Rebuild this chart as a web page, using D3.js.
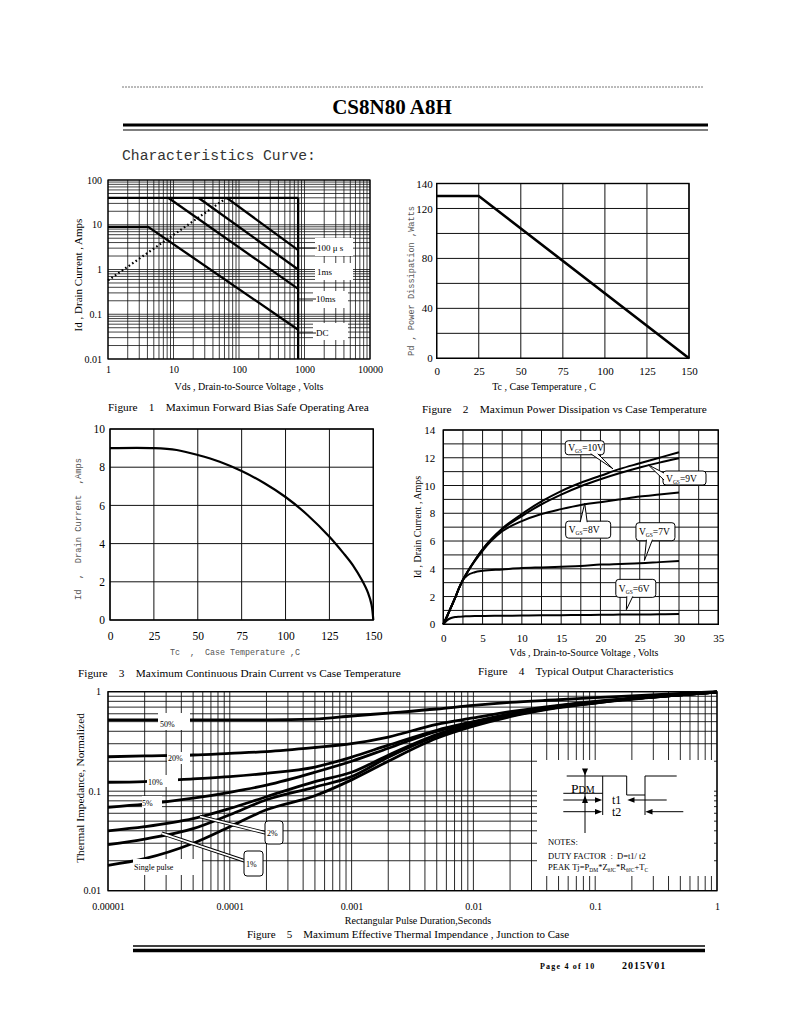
<!DOCTYPE html>
<html><head><meta charset="utf-8">
<script src="https://cdn.jsdelivr.net/npm/d3@7"></script>
<style>body{margin:0;background:#fff}svg{display:block}</style>
</head><body><svg id="c" width="800" height="1035"></svg>
<script>
// ================= DATA =================
// Figure 1 - Safe Operating Area (Vds V, Id A)
const soaXTicks = [1, 10, 100, 1000, 10000];
const soaYTicks = [100, 10, 1, 0.1, 0.01];
const soaRdsLimit = [[1, 0.57], [65, 40]];
const soaIdm = [[1, 40], [800, 40]];
const soaVdss = [[800, 40], [800, 0.01]];
const soaDC = [[1, 9], [4.1, 9], [800, 0.045]];
const soa10ms = [[8.3, 40], [800, 0.37]];
const soa1ms = [[24, 40], [800, 1.0]];
const soa100us = [[65, 40], [800, 2.7]];
const soaLabels = ["100 \u03bc s", "1ms", "10ms", "DC"];

// Figure 2 - Power dissipation
const pdTc = [0, 25, 150];
const pdW = [130, 130, 0];
const pdXTicks = [0, 25, 50, 75, 100, 125, 150];
const pdYTicks = [0, 40, 80, 120, 140];

// Figure 3 - Continuous drain current
const idTc = [0, 25, 38, 50, 62.5, 75, 88, 100, 112.5, 125, 133, 138.5, 143.5, 147, 149, 150];
const idA = [9, 9, 8.9, 8.64, 8.29, 7.8, 7.16, 6.44, 5.5, 4.36, 3.5, 2.85, 2.09, 1.42, 0.8, 0];
const idXTicks = [0, 25, 50, 75, 100, 125, 150];
const idYTicks = [0, 2, 4, 6, 8, 10];

// Figure 4 - Output characteristics
const outVds = [0, 0.5, 1, 1.5, 2, 2.5, 3, 4, 5, 7.5, 10, 12.5, 15, 17.5, 20, 22.5, 25, 27.5, 30];
const outVgs10 = [0, 0.6, 1.25, 1.9, 2.6, 3.2, 3.7, 4.6, 5.4, 6.9, 7.95, 8.85, 9.6, 10.2, 10.7, 11.2, 11.6, 12.0, 12.4];
const outVgs9 = [0, 0.6, 1.25, 1.9, 2.6, 3.2, 3.7, 4.6, 5.4, 6.85, 7.8, 8.65, 9.35, 9.95, 10.45, 10.9, 11.3, 11.65, 11.96];
const outVgs8 = [0, 0.6, 1.25, 1.9, 2.6, 3.2, 3.7, 4.55, 5.3, 6.7, 7.44, 7.95, 8.3, 8.6, 8.8, 9.0, 9.2, 9.35, 9.5];
const outVgs7 = [0, 0.6, 1.25, 1.9, 2.6, 3.2, 3.5, 3.75, 3.85, 3.95, 4.05, 4.1, 4.15, 4.2, 4.3, 4.35, 4.4, 4.48, 4.56];
const outVgs6 = [0, 0.3, 0.45, 0.52, 0.55, 0.57, 0.58, 0.6, 0.6, 0.62, 0.63, 0.65, 0.66, 0.67, 0.68, 0.7, 0.71, 0.72, 0.74];
const outXTicks = [0, 5, 10, 15, 20, 25, 30, 35];
const outYTicks = [0, 2, 4, 6, 8, 10, 12, 14];
const outLabels = ["10V", "9V", "8V", "7V", "6V"];

// Figure 5 - Transient thermal impedance
const zthT = [1e-5, 2e-5, 5e-5, 1e-4, 2e-4, 5e-4, 1e-3, 2e-3, 5e-3, 1e-2, 2e-2, 5e-2, 0.1, 0.2, 0.5, 1];
const zthD50 = [0.52, 0.52, 0.52, 0.52, 0.52, 0.53, 0.57, 0.61, 0.67, 0.73, 0.78, 0.83, 0.87, 0.91, 0.96, 1.0];
const zthD20 = [0.222, 0.226, 0.231, 0.24, 0.25, 0.275, 0.30, 0.35, 0.47, 0.545, 0.63, 0.73, 0.80, 0.86, 0.93, 0.99];
const zthD10 = [0.123, 0.125, 0.133, 0.14, 0.151, 0.175, 0.22, 0.29, 0.41, 0.50, 0.60, 0.72, 0.79, 0.85, 0.93, 0.99];
const zthD5 = [0.069, 0.074, 0.085, 0.0975, 0.115, 0.155, 0.20, 0.27, 0.40, 0.49, 0.59, 0.71, 0.78, 0.85, 0.93, 0.99];
const zthD2 = [0.040, 0.044, 0.053, 0.067, 0.088, 0.125, 0.155, 0.23, 0.37, 0.48, 0.58, 0.70, 0.78, 0.85, 0.93, 0.99];
const zthD1 = [0.029, 0.033, 0.042, 0.058, 0.082, 0.11, 0.14, 0.22, 0.36, 0.47, 0.57, 0.70, 0.77, 0.85, 0.93, 0.99];
const zthSingle = [0.018, 0.021, 0.030, 0.044, 0.065, 0.09, 0.13, 0.20, 0.34, 0.45, 0.56, 0.69, 0.77, 0.84, 0.93, 0.99];
const zthXTicks = [1e-5, 1e-4, 1e-3, 1e-2, 0.1, 1];
const zthXTickLabels = ["0.00001", "0.0001", "0.001", "0.01", "0.1", "1"];
const zthYTicks = [1, 0.1, 0.01];
const zthYTickLabels = ["1", "0.1", "0.01"];
const zthLabels = ["50%", "20%", "10%", "5%", "2%", "1%", "Single pulse"];

// ================= DRAW =================
const SERIF = "'Liberation Serif','Times New Roman',serif";
const MONO = "'Liberation Mono','DejaVu Sans Mono',monospace";
const svg = d3.select("#c");
svg.append("rect").attr("width", 800).attr("height", 1035).attr("fill", "#fff");

function txt(g, x, y, s, o = {}) {
  const t = g.append("text").attr("x", x).attr("y", y)
    .attr("font-family", o.family || SERIF)
    .attr("font-size", o.size || 11)
    .attr("font-weight", o.weight || "normal")
    .attr("fill", o.fill || "#000")
    .attr("text-anchor", o.anchor || "start")
    .style("white-space", "pre")
    .text(s);
  if (o.rotate) t.attr("transform", `rotate(${o.rotate},${x},${y})`);
  if (o.len) t.attr("textLength", o.len).attr("lengthAdjust", "spacingAndGlyphs");
  if (o.ls) t.attr("letter-spacing", o.ls);
  return t;
}
function logVals(lo, hi) {
  const v = [];
  for (let k = lo; k < hi; k++) for (let m = 1; m < 10; m++) v.push(+(m * Math.pow(10, k)).toPrecision(3));
  v.push(Math.pow(10, hi));
  return v;
}
function grid(g, xs, ys, xv, yv, col, w) {
  const [x0, x1] = xs.range(), [y0, y1] = ys.range();
  g.selectAll(null).data(xv).join("line")
    .attr("x1", d => xs(d)).attr("x2", d => xs(d)).attr("y1", y0).attr("y2", y1)
    .attr("stroke", col).attr("stroke-width", w);
  g.selectAll(null).data(yv).join("line")
    .attr("y1", d => ys(d)).attr("y2", d => ys(d)).attr("x1", x0).attr("x2", x1)
    .attr("stroke", col).attr("stroke-width", w);
}
function frame(g, xs, ys, w) {
  const [x0, x1] = xs.range(), [y0, y1] = ys.range();
  g.append("rect").attr("x", x0).attr("y", y1).attr("width", x1 - x0).attr("height", y0 - y1)
    .attr("fill", "none").attr("stroke", "#000").attr("stroke-width", w);
}
function axes(g, xs, ys, xt, yt, xfmt, yfmt, xpad, ypad, size) {
  const ax = g.append("g").attr("transform", `translate(0,${ys.range()[0]})`)
    .call(d3.axisBottom(xs).tickValues(xt).tickFormat(xfmt).tickSize(0).tickPadding(xpad));
  const ay = g.append("g").attr("transform", `translate(${xs.range()[0]},0)`)
    .call(d3.axisLeft(ys).tickValues(yt).tickFormat(yfmt).tickSize(0).tickPadding(ypad));
  [ax, ay].forEach(a => {
    a.select(".domain").remove();
    a.selectAll("text").attr("font-family", SERIF).attr("font-size", size).attr("fill", "#000");
  });
}

// ---------- Header ----------
svg.append("line").attr("x1", 122).attr("x2", 703).attr("y1", 87).attr("y2", 87)
  .attr("stroke", "#777").attr("stroke-width", 1).attr("stroke-dasharray", "2,1");
txt(svg, 392, 114, "CS8N80 A8H", { size: 21, weight: "bold", anchor: "middle" });
svg.append("line").attr("x1", 123).attr("x2", 708).attr("y1", 125).attr("y2", 125).attr("stroke", "#000").attr("stroke-width", 3);
svg.append("line").attr("x1", 123).attr("x2", 708).attr("y1", 130).attr("y2", 130).attr("stroke", "#000").attr("stroke-width", 1.2);
txt(svg, 122, 160, "Characteristics Curve:", { family: MONO, size: 14.7, fill: "#333" });

// ---------- Figure 1 ----------
{
  const g = svg.append("g");
  const xs = d3.scaleLog().domain([1, 10000]).range([108, 370]);
  const ys = d3.scaleLog().domain([0.01, 100]).range([359, 180]);
  grid(g, xs, ys, logVals(0, 4), logVals(-2, 2), "#111", 0.8);
  frame(g, xs, ys, 1.2);
  const line = d3.line().x(d => xs(d[0])).y(d => ys(d[1]));
  [soaIdm, soaVdss, soaDC, soa10ms, soa1ms, soa100us].forEach(d =>
    g.append("path").attr("d", line(d)).attr("fill", "none").attr("stroke", "#000").attr("stroke-width", 2.3));
  g.append("path").attr("d", line(soaRdsLimit)).attr("fill", "none").attr("stroke", "#000")
    .attr("stroke-width", 2.2).attr("stroke-dasharray", "1.6,2.6");
  const boxes = [[315, 238, 38, 18, 317, 251, true], [315, 263, 38, 17, 317, 275, false],
                 [313, 291, 35, 17, 316, 302, true], [313, 323, 35, 17, 316, 336, true]];
  boxes.forEach((b, i) => {
    g.append("rect").attr("x", b[0]).attr("y", b[1]).attr("width", b[2]).attr("height", b[3]).attr("fill", "#fff");
    if (b[6]) g.append("line").attr("x1", xs(800)).attr("x2", b[4]).attr("y1", b[5] - 3).attr("y2", b[5] - 3)
      .attr("stroke", "#000").attr("stroke-width", 0.9);
    txt(g, b[4], b[5], soaLabels[i], { size: 9 });
  });
  axes(g, xs, ys, soaXTicks, soaYTicks, d => d, d => d, 7, 6, 10);
  txt(g, 249, 390, "Vds , Drain-to-Source Voltage , Volts", { size: 10, anchor: "middle" });
  txt(g, 82, 275, "Id , Drain Current , Amps", { size: 11, anchor: "middle", rotate: -90 });
  txt(g, 108, 411, "Figure    1    Maximun Forward Bias Safe Operating Area", { size: 11.3 });
}

// ---------- Figure 2 ----------
{
  const g = svg.append("g");
  const xs = d3.scaleLinear().domain([0, 150]).range([436.7, 689]);
  const ys = d3.scaleLinear().domain([0, 140]).range([358.3, 183.5]);
  grid(g, xs, ys, d3.range(0, 151, 25), d3.range(0, 141, 20), "#111", 1);
  frame(g, xs, ys, 1.4);
  const line = d3.line().x((d, i) => xs(pdTc[i])).y(d => ys(d));
  g.append("path").attr("d", line(pdW)).attr("fill", "none").attr("stroke", "#000").attr("stroke-width", 2.6);
  axes(g, xs, ys, pdXTicks, pdYTicks, d => d, d => d, 9, 4, 11);
  txt(g, 544, 390, "Tc , Case Temperature , C", { size: 10, anchor: "middle" });
  txt(g, 414, 281, "Pd , Power Dissipation ,Watts", { family: MONO, size: 8.6, fill: "#555", anchor: "middle", rotate: -90, len: 150 });
  txt(g, 422, 413, "Figure    2    Maximun Power Dissipation vs Case Temperature", { size: 11.3 });
}

// ---------- Figure 3 ----------
{
  const g = svg.append("g");
  const xs = d3.scaleLinear().domain([0, 150]).range([110, 373.3]);
  const ys = d3.scaleLinear().domain([0, 10]).range([620, 429]);
  grid(g, xs, ys, d3.range(0, 151, 25), d3.range(0, 11, 2), "#111", 1);
  frame(g, xs, ys, 1.4);
  const line = d3.line().x((d, i) => xs(idTc[i])).y(d => ys(d)).curve(d3.curveCatmullRom.alpha(0.5));
  g.append("path").attr("d", line(idA)).attr("fill", "none").attr("stroke", "#000").attr("stroke-width", 2.2);
  axes(g, xs, ys, idXTicks, idYTicks, d => d, d => d, 12, 5, 11.5);
  txt(g, 235, 655, "Tc  ,  Case Temperature ,C", { family: MONO, size: 9.5, fill: "#555", anchor: "middle", len: 130 });
  txt(g, 81, 529, "Id  ,  Drain Current  ,Amps", { family: MONO, size: 9.5, fill: "#555", anchor: "middle", rotate: -90, len: 142 });
  txt(g, 78, 677, "Figure    3    Maximum Continuous Drain Current vs Case Temperature", { size: 11.3 });
}

// ---------- Figure 4 ----------
{
  const g = svg.append("g");
  const xs = d3.scaleLinear().domain([0, 35]).range([443.3, 718.3]);
  const ys = d3.scaleLinear().domain([0, 14]).range([624.3, 430]);
  grid(g, xs, ys, d3.range(0, 35.1, 2.5), d3.range(0, 14.1, 1), "#111", 1);
  frame(g, xs, ys, 1.4);
  const line = d3.line().x((d, i) => xs(outVds[i])).y(d => ys(d)).curve(d3.curveMonotoneX);
  [outVgs10, outVgs9, outVgs8, outVgs7, outVgs6].forEach(s =>
    g.append("path").attr("d", line(s)).attr("fill", "none").attr("stroke", "#000").attr("stroke-width", 2));
  const call = [
    { c: [18.0, 12.72], w: 39, h: 14, side: "bottom", base: [6, 13], tip: [21.6, 11.2] },
    { c: [30.7, 10.54], w: 43, h: 14, side: "left", base: [-5, 2], tip: [26.1, 11.48] },
    { c: [18.44, 6.82], w: 45, h: 17, side: "top", base: [-8, -1], tip: [18.0, 8.72] },
    { c: [27.0, 6.67], w: 39, h: 18, side: "bottom", base: [-9, -3], tip: [25.6, 4.6] },
    { c: [24.5, 2.59], w: 40, h: 18, side: "bottom", base: [-9, -3], tip: [23.3, 1.05] }
  ];
  call.forEach((o, i) => {
    const cx = xs(o.c[0]), cy = ys(o.c[1]);
    const x0 = cx - o.w / 2, y0 = cy - o.h / 2;
    g.append("rect").attr("x", x0).attr("y", y0).attr("width", o.w).attr("height", o.h).attr("rx", 3)
      .attr("fill", "#fff").attr("stroke", "#000").attr("stroke-width", 1);
    let b1, b2;
    if (o.side === "bottom") { b1 = [cx + o.base[0], y0 + o.h - 1]; b2 = [cx + o.base[1], y0 + o.h - 1]; }
    else if (o.side === "top") { b1 = [cx + o.base[0], y0 + 1]; b2 = [cx + o.base[1], y0 + 1]; }
    else { b1 = [x0 + 1, cy + o.base[0]]; b2 = [x0 + 1, cy + o.base[1]]; }
    const tp = [xs(o.tip[0]), ys(o.tip[1])];
    g.append("path").attr("d", `M${b1}L${tp}L${b2}Z`).attr("fill", "#fff").attr("stroke", "none");
    g.append("path").attr("d", `M${b1}L${tp}L${b2}`).attr("fill", "none").attr("stroke", "#000").attr("stroke-width", 1);
    const t = g.append("text").attr("x", x0 + 3).attr("y", cy + 3.5).attr("font-family", SERIF).attr("font-size", 9.5);
    t.append("tspan").text("V");
    t.append("tspan").attr("font-size", 5.5).attr("dy", 2).text("GS");
    t.append("tspan").attr("dy", -2).text("=" + outLabels[i]);
  });
  axes(g, xs, ys, outXTicks, outYTicks, d => d, d => d, 10, 8, 11);
  txt(g, 584, 656, "Vds , Drain-to-Source Voltage , Volts", { size: 10, anchor: "middle" });
  txt(g, 421, 527, "Id , Drain Current , Amps", { size: 10, anchor: "middle", rotate: -90 });
  txt(g, 478, 675, "Figure    4    Typical Output Characteristics", { size: 11.3 });
}

// ---------- Figure 5 ----------
{
  const g = svg.append("g");
  const xs = d3.scaleLog().domain([1e-5, 1]).range([108, 717]);
  const ys = d3.scaleLog().domain([0.01, 1]).range([890.7, 691.7]);
  grid(g, xs, ys, logVals(-5, 0), logVals(-2, 0), "#111", 0.9);
  frame(g, xs, ys, 1.3);
  const line = d3.line().x((d, i) => xs(zthT[i])).y(d => ys(d)).curve(d3.curveMonotoneX);
  [zthD50, zthD20, zthD10, zthD5, zthD2, zthD1, zthSingle].forEach(s =>
    g.append("path").attr("d", line(s)).attr("fill", "none").attr("stroke", "#000").attr("stroke-width", 2.8));
  const lab = [[158, 713, 32, 17, 160, 727], [167, 752, 23, 12, 168, 761], [147, 775, 31, 12, 148, 785],
               [142, 796, 20, 12, 142, 806]];
  lab.forEach((b, i) => {
    g.append("rect").attr("x", b[0]).attr("y", b[1]).attr("width", b[2]).attr("height", b[3]).attr("fill", "#fff");
    txt(g, b[4], b[5], zthLabels[i], { size: 8 });
  });
  g.append("rect").attr("x", 133).attr("y", 859).attr("width", 69).attr("height", 16).attr("fill", "#fff");
  txt(g, 134, 870, zthLabels[6], { size: 8 });
  const leaders = [[[200, 816.5], [266, 833]], [[161.7, 833.3], [245, 861]]];
  leaders.forEach(l => {
    g.append("line").attr("x1", l[0][0]).attr("y1", l[0][1]).attr("x2", l[1][0]).attr("y2", l[1][1])
      .attr("stroke", "#000").attr("stroke-width", 3.6);
    g.append("line").attr("x1", l[0][0]).attr("y1", l[0][1]).attr("x2", l[1][0]).attr("y2", l[1][1])
      .attr("stroke", "#fff").attr("stroke-width", 1.8);
  });
  [[265, 821, 18, 23, 267, 836, 4], [244, 851, 19, 25, 246, 867, 5]].forEach(b => {
    g.append("rect").attr("x", b[0]).attr("y", b[1]).attr("width", b[2]).attr("height", b[3]).attr("rx", 3)
      .attr("fill", "#fff").attr("stroke", "#000").attr("stroke-width", 1);
    txt(g, b[4], b[5], zthLabels[b[6]], { size: 8 });
  });
  // inset
  g.append("rect").attr("x", 537).attr("y", 760).attr("width", 177).attr("height", 116).attr("fill", "#fff");
  const ln = (x1, y1, x2, y2, w = 1) => g.append("line").attr("x1", x1).attr("y1", y1).attr("x2", x2).attr("y2", y2)
    .attr("stroke", "#000").attr("stroke-width", w);
  const tri = (pts) => g.append("path").attr("d", "M" + pts.join("L") + "Z").attr("fill", "#000");
  ln(566.7, 776, 626.7, 776); ln(626.7, 776, 626.7, 795); ln(626.7, 795, 645, 795);
  ln(645, 776, 645, 815); ln(645, 776, 676.7, 776); ln(602.7, 776, 602.7, 815);
  ln(563.3, 793.3, 602.7, 793.3);
  ln(585, 769, 585, 833);
  tri([[582, 768.5], [588, 768.5], [585, 775.5]]);
  tri([[582, 803], [588, 803], [585, 795.5]]);
  ln(563.3, 800, 596, 800); tri([[595, 797.2], [595, 802.8], [602.2, 800]]);
  ln(563.3, 811.7, 596, 811.7); tri([[595, 808.9], [595, 814.5], [602.2, 811.7]]);
  ln(634, 800, 666.7, 800); tri([[634.5, 797.2], [634.5, 802.8], [627.3, 800]]);
  ln(652, 811.7, 683.3, 811.7); tri([[652.5, 808.9], [652.5, 814.5], [645.3, 811.7]]);
  const p = g.append("text").attr("x", 571).attr("y", 792.5).attr("font-family", SERIF).attr("font-size", 13.5);
  p.append("tspan").text("P"); p.append("tspan").attr("font-size", 10).text("DM");
  txt(g, 612, 804, "t1", { size: 12 });
  txt(g, 612, 816, "t2", { size: 12 });
  txt(g, 548, 845, "NOTES:", { size: 8.5 });
  txt(g, 548, 859, "DUTY FACTOR  :  D=t1/ t2", { size: 8.5 });
  const pk = g.append("text").attr("x", 548).attr("y", 870).attr("font-family", SERIF).attr("font-size", 8.5);
  [["PEAK Tj=P", 0], ["DM", 1], ["*Z", 0], ["\u03b8JC", 1], ["*R", 0], ["\u03b8JC", 1], ["+T", 0], ["C", 1]].forEach(([s, sub], i, a) => {
    const prevSub = i > 0 && a[i - 1][1];
    pk.append("tspan").attr("font-size", sub ? 5.5 : 8.5).attr("dy", sub ? 1.5 : (prevSub ? -1.5 : 0)).text(s);
  });
  axes(g, xs, ys, zthXTicks, zthYTicks, (d, i) => zthXTickLabels[i], (d, i) => zthYTickLabels[i], 12, 7, 10);
  txt(g, 418, 924, "Rectangular Pulse Duration,Seconds", { size: 10, anchor: "middle" });
  txt(g, 84, 788, "Thermal Impedance, Normalized", { size: 11.3, anchor: "middle", rotate: -90 });
  txt(g, 408, 938, "Figure    5    Maximum Effective Thermal Impendance , Junction to Case", { size: 11, anchor: "middle" });
}

// ---------- Footer ----------
svg.append("line").attr("x1", 133).attr("x2", 705).attr("y1", 946).attr("y2", 946).attr("stroke", "#000").attr("stroke-width", 1.3);
svg.append("line").attr("x1", 133).attr("x2", 705).attr("y1", 950.5).attr("y2", 950.5).attr("stroke", "#000").attr("stroke-width", 3.5);
txt(svg, 540, 969, "Page 4 of 10", { size: 8, weight: "bold", ls: 1.2 });
txt(svg, 622, 969, "2015V01", { size: 10, weight: "bold", ls: 1 });
</script></body></html>
